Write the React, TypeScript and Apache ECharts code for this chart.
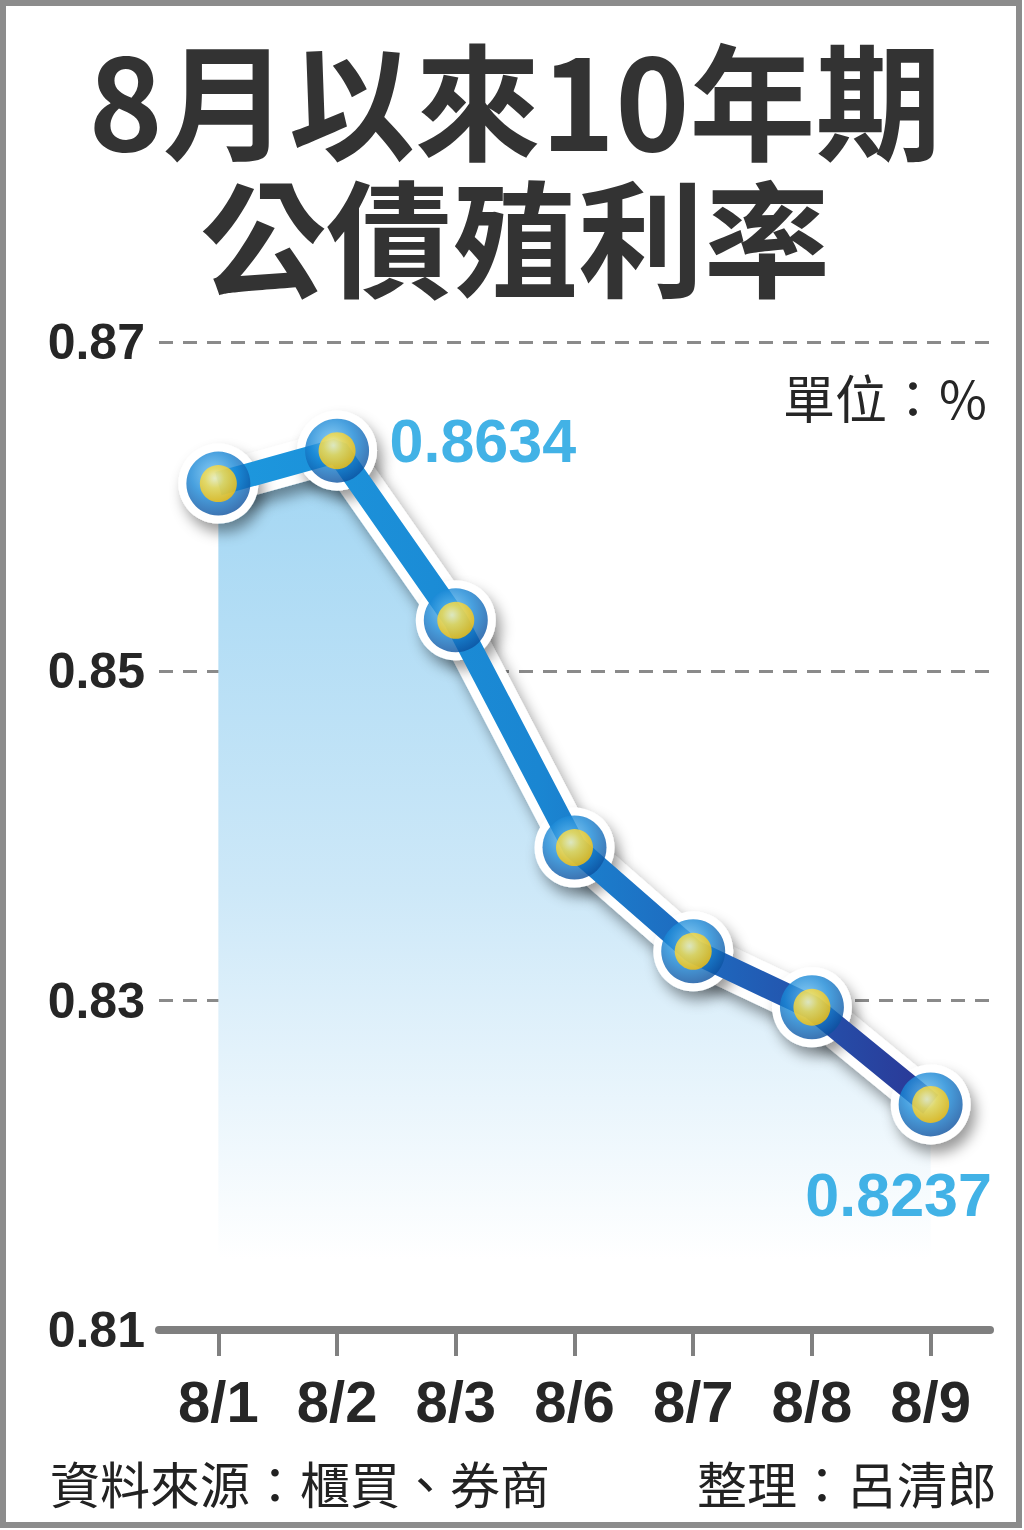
import React, { useEffect, useRef } from 'react';
import * as echarts from 'echarts';

const categories = ['8/1', '8/2', '8/3', '8/6', '8/7', '8/8', '8/9'];
const yields = [0.8614, 0.8634, 0.8531, 0.8393, 0.833, 0.8296, 0.8237];
const yMin = 0.81;
const yMax = 0.87;
const yStep = 0.02;
const titleLines = ['8月以來10年期', '公債殖利率'];
const unitText = '單位：%';
const sourceText = '資料來源：櫃買、券商';
const editorText = '整理：呂清郎';

const CJK = '"Noto Sans CJK TC", "Noto Sans CJK SC", sans-serif';
const NUM = '"Liberation Sans", Arial, sans-serif';

export default function App() {
  const ref = useRef<HTMLDivElement>(null);
  useEffect(() => {
    if (!ref.current) return;
    const chart = echarts.init(ref.current, undefined, { renderer: 'svg' });

    const yellowData = yields.map((v, i) => {
      if (i === 1) {
        return {
          value: v,
          label: {
            show: true,
            position: 'right',
            offset: [29, -10],
            formatter: v.toFixed(4),
          },
        };
      }
      if (i === yields.length - 1) {
        return {
          value: v,
          label: {
            show: true,
            position: 'inside',
            offset: [-32, 91],
            formatter: v.toFixed(4),
          },
        };
      }
      return v;
    });

    const shadow = {
      shadowColor: 'rgba(0,0,0,0.4)',
      shadowBlur: 14,
      shadowOffsetX: 5,
      shadowOffsetY: 9,
    };

    chart.setOption({
      animation: false,
      backgroundColor: '#ffffff',
      grid: { left: 159, right: 34, top: 342, bottom: 200 },
      xAxis: {
        type: 'category',
        data: categories,
        boundaryGap: true,
        axisLine: { show: true, lineStyle: { color: '#7f7f7f', width: 8 } },
        axisTick: { show: true, alignWithLabel: true, length: 26, lineStyle: { color: '#808080', width: 4 } },
        axisLabel: {
          interval: 0,
          margin: 42,
          color: '#262626',
          fontSize: 58,
          fontWeight: 'bold',
          fontFamily: NUM,
        },
        splitLine: { show: false },
        z: 5,
      },
      yAxis: {
        type: 'value',
        min: yMin,
        max: yMax,
        interval: yStep,
        axisLine: { show: false },
        axisTick: { show: false },
        axisLabel: {
          margin: 14,
          color: '#262626',
          fontSize: 50,
          fontWeight: 'bold',
          fontFamily: NUM,
          formatter: (v: number) => v.toFixed(2),
        },
        splitLine: { show: true, lineStyle: { color: '#8a8a8a', width: 3, type: [14, 10] } },
      },
      series: [
        {
          type: 'line',
          data: yields,
          symbol: 'circle',
          symbolSize: 80,
          itemStyle: { color: '#ffffff', ...shadow },
          lineStyle: { color: '#ffffff', width: 42, ...shadow },
          areaStyle: {
            color: {
              type: 'linear',
              x: 0,
              y: 0,
              x2: 0,
              y2: 1,
              colorStops: [
                { offset: 0, color: '#a2d6f3' },
                { offset: 0.5, color: '#cde8f8' },
                { offset: 0.92, color: '#ffffff' },
                { offset: 1, color: '#ffffff' },
              ],
            },
            opacity: 1,
          },
          z: 2,
        },
        {
          type: 'line',
          data: yields,
          symbol: 'none',
          lineStyle: {
            width: 24,
            color: {
              type: 'linear',
              x: 0,
              y: 0,
              x2: 1,
              y2: 0,
              colorStops: [
                { offset: 0, color: '#1d98de' },
                { offset: 0.45, color: '#1a86d2' },
                { offset: 0.7, color: '#1f66bc' },
                { offset: 1, color: '#2b3796' },
              ],
            },
          },
          z: 3,
        },
        {
          type: 'scatter',
          data: yields,
          symbol: 'circle',
          symbolSize: 64,
          itemStyle: {
            color: {
              type: 'radial',
              x: 0.42,
              y: 0.35,
              r: 0.7,
              colorStops: [
                { offset: 0, color: '#6cc0f2' },
                { offset: 0.5, color: '#1a88d6' },
                { offset: 1, color: '#0a4a98' },
              ],
            },
          },
          z: 4,
        },
        {
          type: 'scatter',
          data: yellowData,
          symbol: 'circle',
          symbolSize: 37,
          itemStyle: {
            color: {
              type: 'radial',
              x: 0.4,
              y: 0.36,
              r: 0.75,
              colorStops: [
                { offset: 0, color: '#fff6b8' },
                { offset: 0.35, color: '#ffe14a' },
                { offset: 0.8, color: '#ffc810' },
                { offset: 1, color: '#fbb800' },
              ],
            },
          },
          label: {
            color: '#139fe0',
            fontSize: 61,
            fontWeight: 'bold',
            fontFamily: NUM,
          },
          z: 5,
        },
      ],
      graphic: [
        {
          type: 'rect',
          shape: { x: 3, y: 3, width: 1016, height: 1522 },
          style: { fill: 'none', stroke: '#8c8c8c', lineWidth: 6 },
          silent: true,
          z: 100,
        },
        {
          type: 'text',
          x: 515,
          y: 164,
          style: {
            text: titleLines.join('\n'),
            fontSize: 126,
            lineHeight: 137,
            fontWeight: 'bold',
            fontFamily: CJK,
            fill: '#333333',
            textAlign: 'center',
            textVerticalAlign: 'middle',
          },
        },
        {
          type: 'text',
          x: 987,
          y: 396,
          style: {
            text: unitText,
            fontSize: 52,
            fontFamily: CJK,
            fill: '#262626',
            textAlign: 'right',
            textVerticalAlign: 'middle',
          },
        },
        {
          type: 'text',
          x: 50,
          y: 1482,
          style: {
            text: sourceText,
            fontSize: 50,
            fontFamily: CJK,
            fill: '#222222',
            textAlign: 'left',
            textVerticalAlign: 'middle',
          },
        },
        {
          type: 'text',
          x: 997,
          y: 1482,
          style: {
            text: editorText,
            fontSize: 50,
            fontFamily: CJK,
            fill: '#222222',
            textAlign: 'right',
            textVerticalAlign: 'middle',
          },
        },
      ],
    });
    return () => chart.dispose();
  }, []);
  return (
    <div
      ref={ref}
      style={{ position: 'absolute', left: 0, top: 0, width: 1024, height: 1530 }}
    />
  );
}
